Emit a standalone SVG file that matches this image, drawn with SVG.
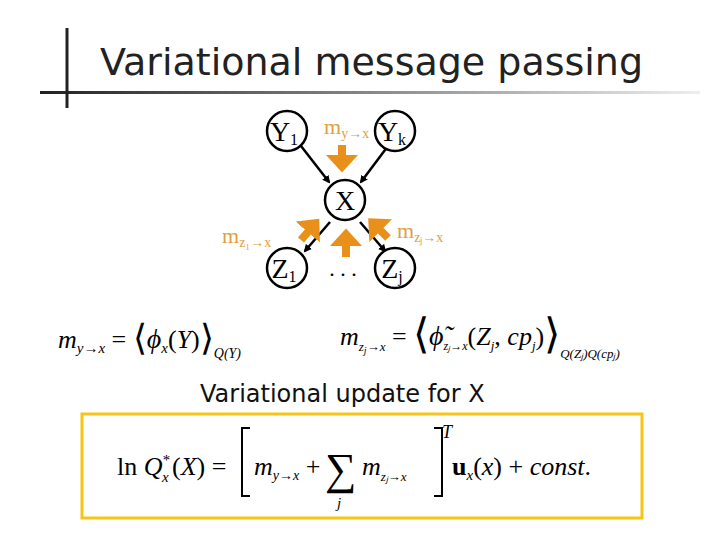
<svg xmlns="http://www.w3.org/2000/svg" width="720" height="540" viewBox="0 0 720 540">
<defs>
<linearGradient id="hl" gradientUnits="userSpaceOnUse" x1="40" y1="0" x2="700" y2="0"><stop offset="0" stop-color="#222"/><stop offset="1" stop-color="#eee"/></linearGradient>
<marker id="ab" markerWidth="8" markerHeight="8" refX="6" refY="4" orient="auto" markerUnits="userSpaceOnUse"><path d="M0,0 L8,4 L0,8 z" fill="#000"/></marker>
<marker id="ao" markerWidth="4" markerHeight="4" refX="1" refY="2" orient="auto"><path d="M0,0 L2.2,2 L0,4 z" fill="#E8901A"/></marker>
</defs>
<style>
.n{fill:#fff;stroke:#000;stroke-width:2.5}
.t{font-family:"Liberation Serif",serif;font-size:28px;text-anchor:middle}
.s{font-family:"Liberation Serif",serif;font-size:16px}
.o{font-family:"Liberation Serif",serif;fill:#E0A040}
.bl{stroke:#000;stroke-width:2.5;marker-end:url(#ab)}
.ol{stroke:#E8901A;stroke-width:8;marker-end:url(#ao)}
.m{font-family:"Liberation Serif",serif;font-style:italic;font-size:26px}
.r{font-style:normal}
</style>
<rect width="720" height="540" fill="#fff"/>
<rect x="40" y="91" width="660" height="3" fill="url(#hl)"/>
<line x1="67" y1="28" x2="67" y2="108" stroke="#222" stroke-width="3"/>
<text x="100" y="75" font-family="DejaVu Sans,sans-serif" font-size="38" textLength="543" lengthAdjust="spacingAndGlyphs" fill="#222">Variational message passing</text>
<g id="connectors">
<line class="bl" x1="301" y1="146" x2="329" y2="182"/>
<line class="bl" x1="388" y1="146" x2="361" y2="182"/>
<line class="bl" x1="330" y1="222" x2="305" y2="251"/>
<line class="bl" x1="360" y1="222" x2="385" y2="251"/>
<line class="ol" x1="342" y1="145" x2="342" y2="163"/>
<line class="ol" x1="301" y1="240" x2="313" y2="226"/>
<line class="ol" x1="346" y1="257" x2="346" y2="238"/>
<line class="ol" x1="388" y1="238" x2="375" y2="225"/>
</g>
<g id="Y1"><circle class="n" cx="287" cy="131" r="20"/><text class="t" x="284" y="141">Y<tspan class="s" dy="4">1</tspan></text></g>
<g id="Yk"><circle class="n" cx="395" cy="131" r="20"/><text class="t" x="392" y="141">Y<tspan class="s" dy="4">k</tspan></text></g>
<g id="X"><circle class="n" cx="345" cy="200" r="20"/><text class="t" x="345" y="210">X</text></g>
<g id="Z1"><circle class="n" cx="287" cy="268" r="20"/><text class="t" x="284" y="278">Z<tspan class="s" dy="4">1</tspan></text></g>
<g id="Zj"><circle class="n" cx="395" cy="268" r="20"/><text class="t" x="392" y="278">Z<tspan class="s" dy="4">j</tspan></text></g>
<text x="343" y="276" font-family="Liberation Serif,serif" font-size="22" text-anchor="middle">. . .</text>
<text class="o" x="324" y="134" font-size="22">m<tspan font-size="14" dy="4">y→x</tspan></text>
<text class="o" x="222" y="243" font-size="22">m<tspan font-size="14" dy="4">z₁→x</tspan></text>
<text class="o" x="397" y="238" font-size="22">m<tspan font-size="14" dy="4">zⱼ→x</tspan></text>
<text class="m" x="58" y="348">m<tspan style="font-size:15px" dy="5">y→x</tspan><tspan class="r" dy="-5"> = </tspan><tspan class="r" style="font-size:36px" dy="2">⟨</tspan><tspan style="font-size:28px" dy="-2">ϕ</tspan><tspan style="font-size:15px" dy="5">x</tspan><tspan class="r" dy="-5">(</tspan>Y<tspan class="r">)</tspan><tspan class="r" style="font-size:36px" dy="2">⟩</tspan><tspan style="font-size:14px" dy="8">Q(Y)</tspan></text>
<text class="m" x="340" y="345">m<tspan style="font-size:13px" dy="6">z</tspan><tspan style="font-size:10px" dy="3">j</tspan><tspan style="font-size:13px" dy="-3">→x</tspan><tspan class="r" dy="-6"> = </tspan><tspan class="r" style="font-size:42px" dy="3">⟨</tspan><tspan style="font-size:28px" dy="-3">ϕ̃</tspan><tspan style="font-size:12px" dy="5">zⱼ→x</tspan><tspan class="r" dy="-5">(</tspan>Z<tspan style="font-size:13px" dy="5">j</tspan><tspan class="r" dy="-5">, </tspan>cp<tspan style="font-size:13px" dy="5">j</tspan><tspan class="r" dy="-5">)</tspan><tspan class="r" style="font-size:42px" dy="3">⟩</tspan><tspan style="font-size:13px" dy="10">Q(Zⱼ)Q(cpⱼ)</tspan></text>
<text x="200" y="402" font-family="DejaVu Sans,sans-serif" font-size="24" fill="#111">Variational update for X</text>
<rect x="82" y="414" width="560" height="104" fill="#fff" stroke="#F5C518" stroke-width="3"/>
<text class="m" x="117" y="475"><tspan class="r">ln </tspan>Q</text>
<text class="m" x="162" y="465" style="font-size:15px">*</text>
<text class="m" x="162" y="482" style="font-size:15px">x</text>
<text class="m" x="172" y="475"><tspan class="r">(</tspan>X<tspan class="r">) =</tspan></text>
<path d="M250,428 h-8 v68 h8 M434,428 h8 v68 h-8" fill="none" stroke="#000" stroke-width="2"/>
<text class="m" x="254" y="475">m<tspan style="font-size:14px" dy="5">y→x</tspan><tspan class="r" dy="-5"> + </tspan></text>
<text class="m r" x="325" y="484" style="font-size:44px;font-style:normal">∑</text>
<text class="m" x="337" y="508" style="font-size:15px">j</text>
<text class="m" x="362" y="475">m<tspan style="font-size:13px" dy="6">zⱼ→x</tspan></text>
<text class="m" x="442" y="438" style="font-size:18px">T</text>
<text class="m" x="452" y="475"><tspan font-weight="bold" class="r">u</tspan><tspan style="font-size:15px" dy="5">x</tspan><tspan class="r" dy="-5">(</tspan>x<tspan class="r">) + </tspan>const<tspan class="r">.</tspan></text>
</svg>
